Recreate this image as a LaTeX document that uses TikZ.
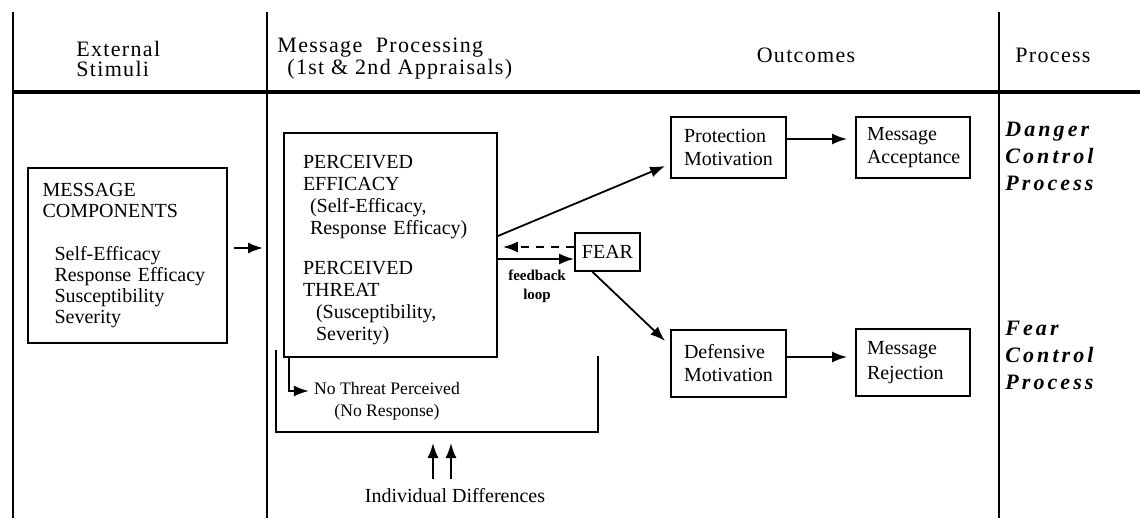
\documentclass[tikz,border=0pt]{standalone}
\usepackage{fontspec}
\setmainfont{Liberation Serif}
\newfontfamily\hdfont[LetterSpace=6]{Liberation Serif}
\newfontfamily\prfont[LetterSpace=14]{Liberation Serif}
\usetikzlibrary{arrows.meta,calc}
\begin{document}
\begin{tikzpicture}[x=0.5pt,y=-0.5pt,
  box/.style={draw, line width=0.9pt, inner sep=0pt, font=\fontsize{10}{11}\selectfont},
  arr/.style={line width=0.9pt, -{Latex[length=7.5pt,width=5.5pt]}},
  sepline/.style={line width=0.6pt},
  hd/.style={inner sep=0pt, font=\hdfont\fontsize{11}{10}\selectfont},
  prc/.style={inner sep=0pt, align=left, font=\prfont\bfseries\itshape\fontsize{11}{13.5}\selectfont}]
\useasboundingbox (0,0) rectangle (1140,518);

% frame lines
\draw[sepline] (13,12) -- (13,518);
\draw[sepline] (267,12) -- (267,518);
\draw[sepline] (999,12) -- (999,518);
\draw[line width=1.6pt] (13,92) -- (1140,92);

% headers
\node[hd, anchor=west, align=left] (hext) at (76,59) {External\\Stimuli};
\node[hd, anchor=west, align=left] (hmp) at (277,59) {Message\ \ Processing\\\hspace*{5pt}(1st \& 2nd Appraisals)};
\node[hd] (hout) at (806,55) {Outcomes};
\node[hd] (hpro) at (1053,55) {Process};

% boxes
\node[box, minimum width=99.5pt, minimum height=87.5pt, text width=85pt, align=left,
      font=\fontsize{10}{10.5}\selectfont] (msg) at (127.5,255.5)
  {MESSAGE\\COMPONENTS\\[11pt]\hspace*{6pt}Self-Efficacy\\\hspace*{6pt}Response Efficacy\\\hspace*{6pt}Susceptibility\\\hspace*{6pt}Severity};

\node[box, minimum width=106.5pt, minimum height=112pt, text width=87.5pt, align=left] (perc) at (390.5,245)
  {\rule{0pt}{11.5pt}PERCEIVED\\EFFICACY\\\hspace*{3.5pt}(Self-Efficacy,\\\hspace*{3.5pt}Response Efficacy)\\[9pt]PERCEIVED\\THREAT\\\hspace*{6.5pt}(Susceptibility,\\\hspace*{6.5pt}Severity)};

\node[box, minimum width=32.5pt, minimum height=19pt] (fear) at (607.5,252) {FEAR};

\node[box, minimum width=57.5pt, minimum height=30.5pt, text width=44.5pt, align=left,
      font=\fontsize{10}{11.5}\selectfont] (prot) at (728.5,147.5) {Protection\\Motivation};
\node[box, minimum width=57pt, minimum height=30.5pt, text width=46pt, align=left,
      font=\fontsize{10}{11.5}\selectfont] (acc) at (913,147.5) {Message\\Acceptance};
\node[box, minimum width=57.5pt, minimum height=33.5pt, text width=44.5pt, align=left,
      font=\fontsize{10}{11.5}\selectfont] (def) at (728.5,363.5) {Defensive\\Motivation};
\node[box, minimum width=57pt, minimum height=33.5pt, text width=46pt, align=left,
      font=\fontsize{10}{12.5}\selectfont] (rej) at (913,362.5) {Message\\Rejection};

% process labels
\node[prc, anchor=west] (dcp) at (1005,156) {Danger\\Control\\Process};
\node[prc, anchor=west] (fcp) at (1005,355) {Fear\\Control\\Process};

% small labels
\node[inner sep=1pt, align=center, font=\bfseries\fontsize{7.5}{9.5}\selectfont] (fb) at (537,286) {feedback\\loop};
\node[inner sep=1pt, align=center, font=\fontsize{8.8}{11}\selectfont] (nt) at (387,401) {No Threat Perceived\\(No Response)};
\node[font=\fontsize{10}{12}\selectfont] (ind) at (455,496) {Individual Differences};

% bracket
\coordinate (bl) at (276,350);
\coordinate (bbl) at (276,432);
\coordinate (bbr) at (598,432);
\coordinate (br) at (598,356);
\draw[line width=0.9pt] (bl) -- (bbl) -- (bbr) -- (br);

% connectors
\coordinate (in) at (263,248);
\draw[arr, shorten <=3pt] (msg.east |- in) -- (in);
\draw[arr] ($(perc.east)+(0,-9)$) -- ($(prot.west)+(-5,18.5)$);
\draw[arr] ($(fear.south)+(-15,0)$) -- ($(def.west)+(-5,-22.5)$);
\draw[arr, dash pattern=on 4pt off 3.5pt] ($(fear.west)+(0,-5)$) -- ($(perc.east)+(5,2)$);
\draw[arr] ($(perc.east)+(0,14)$) -- ($(fear.west)+(0,7)$);
\draw[arr, shorten >=4pt] ($(prot.east)+(0,-8.5)$) -- ($(acc.west)+(0,-8.5)$);
\draw[arr, shorten >=4pt] ($(def.east)+(0,-6.5)$) -- ($(rej.west)+(0,-5.5)$);
\draw[arr] ($(perc.south west)+(6,0)$) |- ($(nt.west)+(-3,-10)$);
\coordinate (ia) at ($(ind.north)+(-22,-3)$);
\coordinate (ib) at ($(ind.north)+(-4,-3)$);
\draw[arr, shorten >=5.5pt] (ia) -- (ia |- bbr);
\draw[arr, shorten >=5.5pt] (ib) -- (ib |- bbr);
\end{tikzpicture}
\end{document}
